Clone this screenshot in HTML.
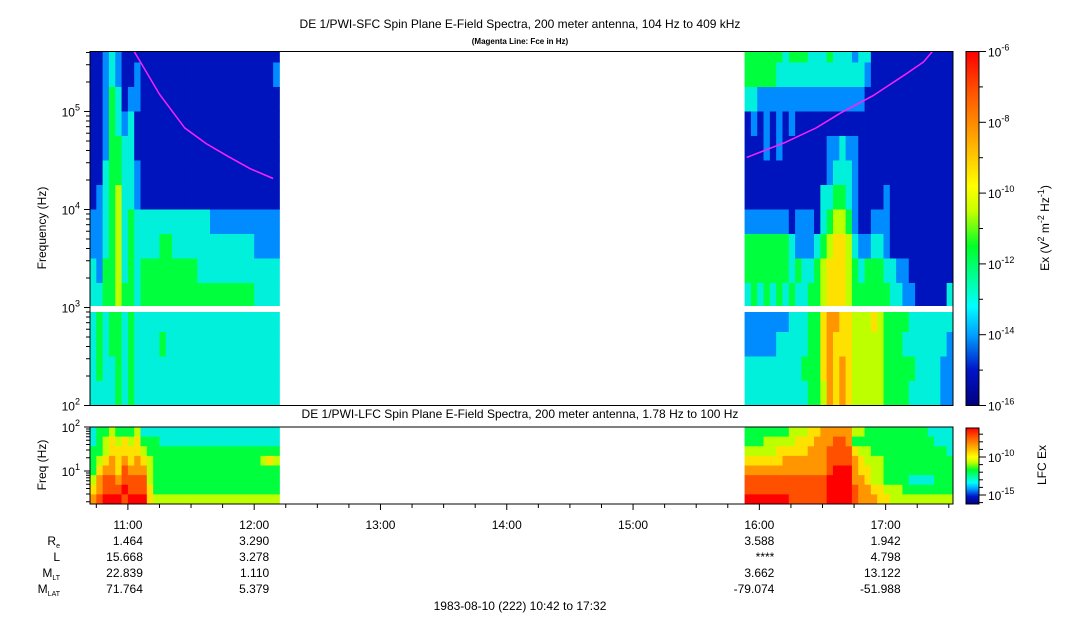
<!DOCTYPE html>
<html><head><meta charset="utf-8"><style>
html,body{margin:0;padding:0;background:#fff;}
svg{display:block;font-family:"Liberation Sans",sans-serif;}
</style></head><body>
<svg id="c" width="1083" height="620" viewBox="0 0 1083 620">
<defs>
<clipPath id="clipTop"><rect x="90" y="51.5" width="863" height="354"/></clipPath>
<clipPath id="clipBot"><rect x="90" y="427" width="863" height="77"/></clipPath>
<linearGradient id="cbar" x1="0" y1="1" x2="0" y2="0">
<stop offset="0" stop-color="#000080"/><stop offset="0.1" stop-color="#0014c8"/><stop offset="0.2" stop-color="#00a0ff"/><stop offset="0.28" stop-color="#00ffff"/><stop offset="0.45" stop-color="#00ff28"/><stop offset="0.55" stop-color="#c8ff00"/><stop offset="0.62" stop-color="#ffff00"/><stop offset="0.78" stop-color="#ff9600"/><stop offset="0.89" stop-color="#ff5000"/><stop offset="1" stop-color="#ff0000"/>
</linearGradient>
</defs>
<text x="520" y="28" font-size="12" text-anchor="middle">DE 1/PWI-SFC  Spin Plane E-Field Spectra, 200 meter antenna, 104 Hz to 409 kHz</text>
<text x="520" y="44" font-size="8" font-weight="bold" text-anchor="middle">(Magenta Line: Fce in Hz)</text>
<text x="520" y="418" font-size="12" text-anchor="middle">DE 1/PWI-LFC  Spin Plane E-Field Spectra, 200 meter antenna, 1.78 Hz to 100 Hz</text>
<g id="sfc" clip-path="url(#clipTop)"></g>
<g id="lfc" clip-path="url(#clipBot)"></g>
<rect x="90" y="306" width="863" height="6" fill="#fff"/>
<polyline id="fceL" fill="none" stroke="#ff20ff" stroke-width="1.5" clip-path="url(#clipTop)"/>
<polyline id="fceR" fill="none" stroke="#ff20ff" stroke-width="1.5" clip-path="url(#clipTop)"/>
<rect x="90" y="51.5" width="863" height="354" fill="none" stroke="#000"/>
<rect x="90" y="427" width="863" height="77" fill="none" stroke="#000"/>
<rect x="966" y="51.5" width="13" height="354" fill="url(#cbar)" stroke="#000"/>
<rect x="966" y="428" width="13" height="76" fill="url(#cbar)" stroke="#000"/>
<g id="axes" font-size="12"></g>
<text transform="translate(46,228) rotate(-90)" font-size="12" text-anchor="middle">Frequency (Hz)</text>
<text transform="translate(46,465) rotate(-90)" font-size="12" text-anchor="middle">Freq (Hz)</text>
<text transform="translate(1049,228) rotate(-90)" font-size="12" text-anchor="middle">Ex (V<tspan dy="-5" font-size="9">2</tspan><tspan dy="5"> m</tspan><tspan dy="-5" font-size="9">-2</tspan><tspan dy="5"> Hz</tspan><tspan dy="-5" font-size="9">-1</tspan><tspan dy="5">)</tspan></text>
<text transform="translate(1046,465) rotate(-90)" font-size="12" text-anchor="middle">LFC Ex</text>
<g font-size="12" text-anchor="end">
<text x="60" y="545">R<tspan font-size="7" dy="3">e</tspan></text>
<text x="60" y="561">L</text>
<text x="60" y="577">M<tspan font-size="7" dy="3">LT</tspan></text>
<text x="60" y="593">M<tspan font-size="7" dy="3">LAT</tspan></text>
</g>
<g id="eph" font-size="12" text-anchor="end"></g>
<text x="520" y="610" font-size="12" text-anchor="middle">1983-08-10 (222) 10:42 to 17:32</text>
</svg>
<script>
// ---- data ----
const sfcLeftStart = 10.7, sfcRightStart = 15.883, colStep = 0.05; // hours
const sfcRowLogStep = 0.25; // decades per row, starting 10^2 Hz
// rows from top (row 14) to bottom (row 0), digit = intensity level 0..9
const sfcLeft = [
"112321111111111111111111111111",
"112321121111111111111111111112",
"112431221111111111111111111111",
"112432311111111111111111111111",
"112443311111111111111111111111",
"113443321111111111111111111111",
"123453321111111111111111111111",
"223453433333333333322222222222",
"223453433334433333333333332222",
"324453434444444443333333333333",
"334454434444444444444444443333",
"343443433333333333333333333333",
"343443433334333333333333333333",
"343343433333333333333333333333",
"333343433333333333333333333333"];
const sfcRight = [
"444444344433343332331111111111111",
"444443333333333333321111111111111",
"332222222222222222211111111111111",
"121212121111111111111111111111111",
"111212111111122322111111111111111",
"111111111111123332111111111111111",
"111111111111334432111121111111111",
"222222212221345542112221111111111",
"444444432223456653223321111111111",
"444444434334566654344433221111111",
"343434343344566654444443322111113",
"222222233344677665556544443333333",
"222223333344676665555544433333332",
"333333333444676765555544444333322",
"333333333344576765555544443333322"];
const lfcLeft = [
"344544453333333333333333333333",
"345656564443333333333333333333",
"445666665444444444444444444444",
"456767676544444444444444444565",
"467768777544444444444444444444",
"578878888544444444444444444444",
"678889888644444444444444444444",
"789998999655555555555555555555"];
const lfcRight = [
"444444455566777775544444444443333",
"444555556667778874444444444444333",
"555556666677788886554444444444443",
"666666777777788887655544444444444",
"777777777777789997665544444444444",
"888888888888899997765544443333444",
"888888888888899998776655544444444",
"999999988888899998777665555555555"];
const fceLeftT = [11.05, 11.25, 11.45, 11.62, 11.79, 11.97, 12.15];
const fceLeftF = [409000, 150000, 68000, 47000, 35000, 26000, 20700];
const fceRightT = [15.90, 16.20, 16.45, 16.64, 16.90, 17.17, 17.30, 17.37];
const fceRightF = [34000, 48000, 68000, 96000, 145000, 245000, 320000, 409000];
const hourTicks = [11, 12, 13, 14, 15, 16, 17];
const hourLabels = ["11:00","12:00","13:00","14:00","15:00","16:00","17:00"];
const ephHours = [11, 12, 16, 17];
const ephRe = ["1.464","3.290","3.588","1.942"];
const ephL = ["15.668","3.278","****","4.798"];
const ephMLT = ["22.839","1.110","3.662","13.122"];
const ephMLAT = ["71.764","5.379","-79.074","-51.988"];
const cbarTop = [-6, -8, -10, -12, -14, -16];
const lfcCbar = [-10, -15];

// ---- scales ----
const NS = "http://www.w3.org/2000/svg";
const X0 = 90, T0 = 10.7, PXH = 863 / (17.5333 - 10.7);
const xT = t => X0 + (t - T0) * PXH;
const yTopBase = 405.5, PXD = 354 / 3.612;
const yF = lf => yTopBase - (lf - 2) * PXD;
const yL = lf => 504 - (lf - 0.25) * (77 / 1.75);
const stops = [[0,0,128],[0,20,190],[0,140,255],[0,240,220],[0,255,60],[190,255,0],[255,225,0],[255,150,0],[255,80,0],[255,0,0]];
const col = d => { const s = stops[d]; return `rgb(${s[0]},${s[1]},${s[2]})`; };
function mk(tag, attrs, parent) { const e = document.createElementNS(NS, tag); for (const k in attrs) e.setAttribute(k, attrs[k]); parent.appendChild(e); return e; }

function drawGrid(g, rows, tStart, yOf, nRows, logStart, logStep) {
  rows.forEach((row, i) => {
    const r = nRows - 1 - i;
    const yTop = yOf(logStart + (r + 1) * logStep), yBot = yOf(logStart + r * logStep);
    for (let c = 0; c < row.length; c++) {
      const x1 = xT(tStart + c * colStep), x2 = xT(tStart + (c + 1) * colStep);
      const el = mk("rect", {x: x1.toFixed(2), y: yTop.toFixed(2), width: (x2 - x1 + 0.4).toFixed(2), height: (yBot - yTop + 0.4).toFixed(2), fill: col(+row[c])}, g);
      
      
    }
  });
}
const sfc = document.getElementById("sfc"), lfc = document.getElementById("lfc");
drawGrid(sfc, sfcLeft, sfcLeftStart, yF, 15, 2, sfcRowLogStep);
drawGrid(sfc, sfcRight, sfcRightStart, yF, 15, 2, sfcRowLogStep);
drawGrid(lfc, lfcLeft, sfcLeftStart, yL, 8, 0.25, 1.75 / 8);
drawGrid(lfc, lfcRight, sfcRightStart, yL, 8, 0.25, 1.75 / 8);

function fcePts(ts, fs) { return ts.map((t, i) => xT(t).toFixed(1) + "," + yF(Math.log10(fs[i])).toFixed(1)).join(" "); }
document.getElementById("fceL").setAttribute("points", fcePts(fceLeftT, fceLeftF));
document.getElementById("fceR").setAttribute("points", fcePts(fceRightT, fceRightF));

const ax = document.getElementById("axes");
// time ticks every 15 minutes
for (let m = 645; m <= 1052; m += 15) {
  const h = m / 60;
  const x = xT(h);
  const major = (m % 60 === 0);
  const tk = mk("line", {x1: x, x2: x, y1: 504, y2: major ? 510 : 508, stroke: "#000"}, ax);
  
  
}
hourTicks.forEach((h, i) => {
  const t = mk("text", {x: xT(h), y: 529, "text-anchor": "middle"}, ax);
  t.textContent = hourLabels[i];
  
  
});
// sfc y ticks
for (let d = 2; d <= 5; d++) {
  for (let k = 1; k <= 9; k++) {
    const lf = d + Math.log10(k); if (lf > 5.612) break;
    const y = yF(lf);
    const tk = mk("line", {x1: k === 1 ? 84 : 86, x2: 90, y1: y, y2: y, stroke: "#000"}, ax);
    
    
  }
  const t = mk("text", {x: 80, y: yF(d) + 5, "text-anchor": "end"}, ax);
  t.innerHTML = `10<tspan dy="-6" font-size="9">${d}</tspan>`;
  
  
}
// lfc y ticks
for (let d = 0; d <= 2; d++) {
  for (let k = 1; k <= 9; k++) {
    const lf = d + Math.log10(k); if (lf < 0.25 || lf > 2) continue;
    const y = yL(lf);
    const tk = mk("line", {x1: k === 1 ? 84 : 86, x2: 90, y1: y, y2: y, stroke: "#000"}, ax);
    
    
  }
}
[1, 2].forEach(d => {
  const t = mk("text", {x: 80, y: yL(d) + 5, "text-anchor": "end"}, ax);
  t.innerHTML = `10<tspan dy="-6" font-size="9">${d}</tspan>`;
  
  
});
// colorbar ticks
const cbY = e => 405.5 - (e + 16) * (354 / 10);
for (let e = -16; e <= -6; e++) {
  const y = cbY(e);
  const tk = mk("line", {x1: 979, x2: e % 2 === 0 ? 986 : 983, y1: y, y2: y, stroke: "#000"}, ax);
  
  
}
cbarTop.forEach(e => {
  const t = mk("text", {x: 988, y: cbY(e) + 5}, ax);
  t.innerHTML = `10<tspan dy="-6" font-size="9">${e}</tspan>`;
  
  
});
const lcY = e => 495 - (e + 15) * (38 / 5);
for (let e = -16; e <= -6; e++) {
  const y = lcY(e); if (y < 428 || y > 504) continue;
  const tk = mk("line", {x1: 979, x2: e % 5 === 0 ? 986 : 983, y1: y, y2: y, stroke: "#000"}, ax);
  
  
}
lfcCbar.forEach(e => {
  const t = mk("text", {x: 988, y: lcY(e) + 5}, ax);
  t.innerHTML = `10<tspan dy="-6" font-size="9">${e}</tspan>`;
  
  
});
// ephemeris
const eph = document.getElementById("eph");
[ephRe, ephL, ephMLT, ephMLAT].forEach((arr, r) => {
  arr.forEach((v, i) => {
    const t = mk("text", {x: xT(ephHours[i]) + 15, y: 545 + r * 16}, eph);
    t.textContent = v;
    
    
  });
});
</script>
</body></html>
